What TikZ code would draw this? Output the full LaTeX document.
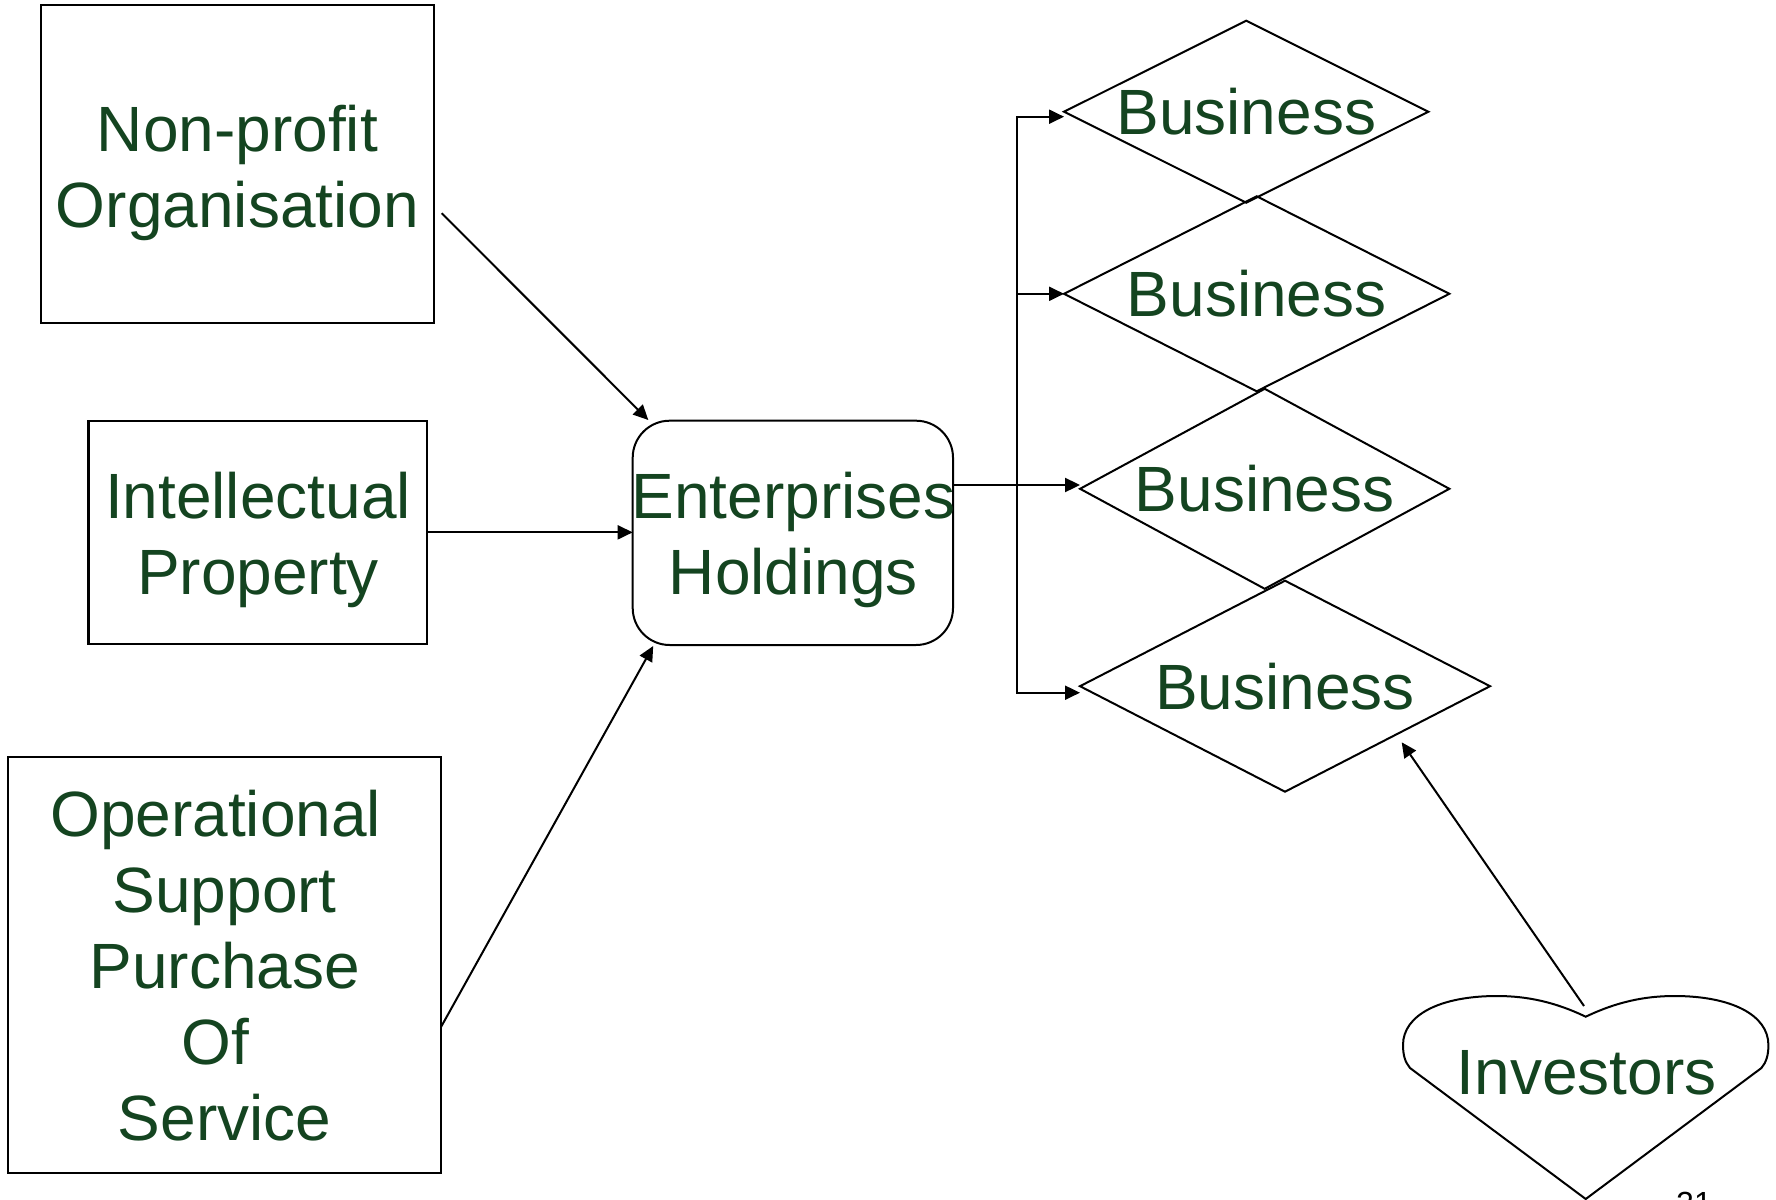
\documentclass[tikz,border=0pt]{standalone}
\usepackage{fontspec}
\setmainfont{Liberation Sans}
\usetikzlibrary{shapes.geometric,arrows.meta,calc}
\definecolor{labelgreen}{RGB}{20,68,32}
\begin{document}
\begin{tikzpicture}[x=1pt,y=-1pt,
  bigtext/.style={font=\fontsize{64}{76}\selectfont, text=labelgreen, inner sep=0pt},
  plainbox/.style={draw, line width=2.2pt, inner sep=0pt, outer sep=0pt},
  bizbox/.style={shape=diamond, draw, line width=2pt, outer sep=0pt, bigtext},
  conn/.style={line width=2pt, -{Triangle[length=15pt,width=14pt]}},
  plainline/.style={line width=2pt}
]
\fill[white] (0,0) rectangle (1776,1199);
\useasboundingbox (0,0) rectangle (1776,1199);

% source boxes
\node[plainbox, minimum width=393.3pt, minimum height=318.3pt] (np) at (237.35,163.85) {};
\node[bigtext, anchor=base] (npt) at (237.4,151.7)
  {\begin{tabular}[t]{@{}c@{}}Non-profit\\Organisation\end{tabular}};

\node[plainbox, minimum width=338.8pt, minimum height=223.3pt] (ip) at (257.8,532.35) {};
\node[bigtext, anchor=base] (ipt) at (258,518.3)
  {\begin{tabular}[t]{@{}c@{}}Intellectual\\Property\end{tabular}};

\node[plainbox, minimum width=432.7pt, minimum height=416pt] (op) at (224.65,964.7) {};
\node[bigtext, anchor=base] (opt) at (224.65,836.7)
  {\begin{tabular}[t]{@{}c@{}}Operational\kern0.278em\\Support\\Purchase\\Of\kern0.278em\\Service\end{tabular}};

% holding company
\node[plainbox, line width=2pt, rounded corners=37pt, minimum width=320.3pt, minimum height=224.3pt] (eh) at (792.85,532.85) {};
\node[bigtext, anchor=base] (eht) at (793.5,518.3)
  {\begin{tabular}[t]{@{}c@{}}Enterprises\\Holdings\end{tabular}};

% businesses
\node[bizbox, aspect=2,    minimum width=364.3pt, minimum height=182pt] (d1) at (1246.2,111.7) {Business};
\node[bizbox, aspect=1.98, minimum width=385.3pt, minimum height=195pt] (d2) at (1256.7,293.8) {Business};
\node[bizbox, aspect=1.85, minimum width=369.3pt, minimum height=200pt] (d3) at (1264.7,488.8) {Business};
\node[bizbox, aspect=1.94, minimum width=410pt,   minimum height=211pt] (d4) at (1285,686.2) {Business};

% investors heart
\node[bigtext] (inv) at (1586.7,1073) {Investors};
\coordinate (notch) at (1585.7,1016.7);
\draw[plainline] (notch) .. controls (1555,1002) and (1527,996) .. (1497,996)
  .. controls (1440,996) and (1403,1015) .. (1403,1045)
  .. controls (1403,1055) and (1405,1062) .. (1410,1068)
  -- (1585.7,1199) -- (1761.4,1068)
  .. controls (1766.4,1062) and (1768.4,1055) .. (1768.4,1045)
  .. controls (1768.4,1015) and (1731.4,996) .. (1674.4,996)
  .. controls (1644.4,996) and (1616.4,1002) .. cycle;

% inputs to the holding company
\draw[conn] ($(np.east)+(7.7,49.4)$) -- ($(eh.north west)+(15.6,-0.7)$);
\draw[conn] (ip.east) -- (ip.east -| eh.west);
\draw[conn] ($(op.east)+(0,62.3)$) -- ($(eh.south west)+(20.5,1)$);

% distribution bus to the businesses
\coordinate (bus) at (1016.7,485);
\draw[conn] (eh.east |- bus) -- (bus -| d3.west);
\draw[conn] (bus) |- ($(d1.west)+(0,5)$);
\draw[conn] (bus) |- (d2.west);
\draw[conn] (bus) |- ($(d4.west)+(0,6.5)$);

% investors to business
\draw[conn] ($(notch)+(-1.7,-10.7)$) -- ($(d4.center)+(116.7,56.1)$);

% page number
\node[font=\fontsize{32}{38}\selectfont, anchor=base west, inner sep=0pt] (pgnum) at (1676,1214.6) {21};
\end{tikzpicture}
\end{document}
